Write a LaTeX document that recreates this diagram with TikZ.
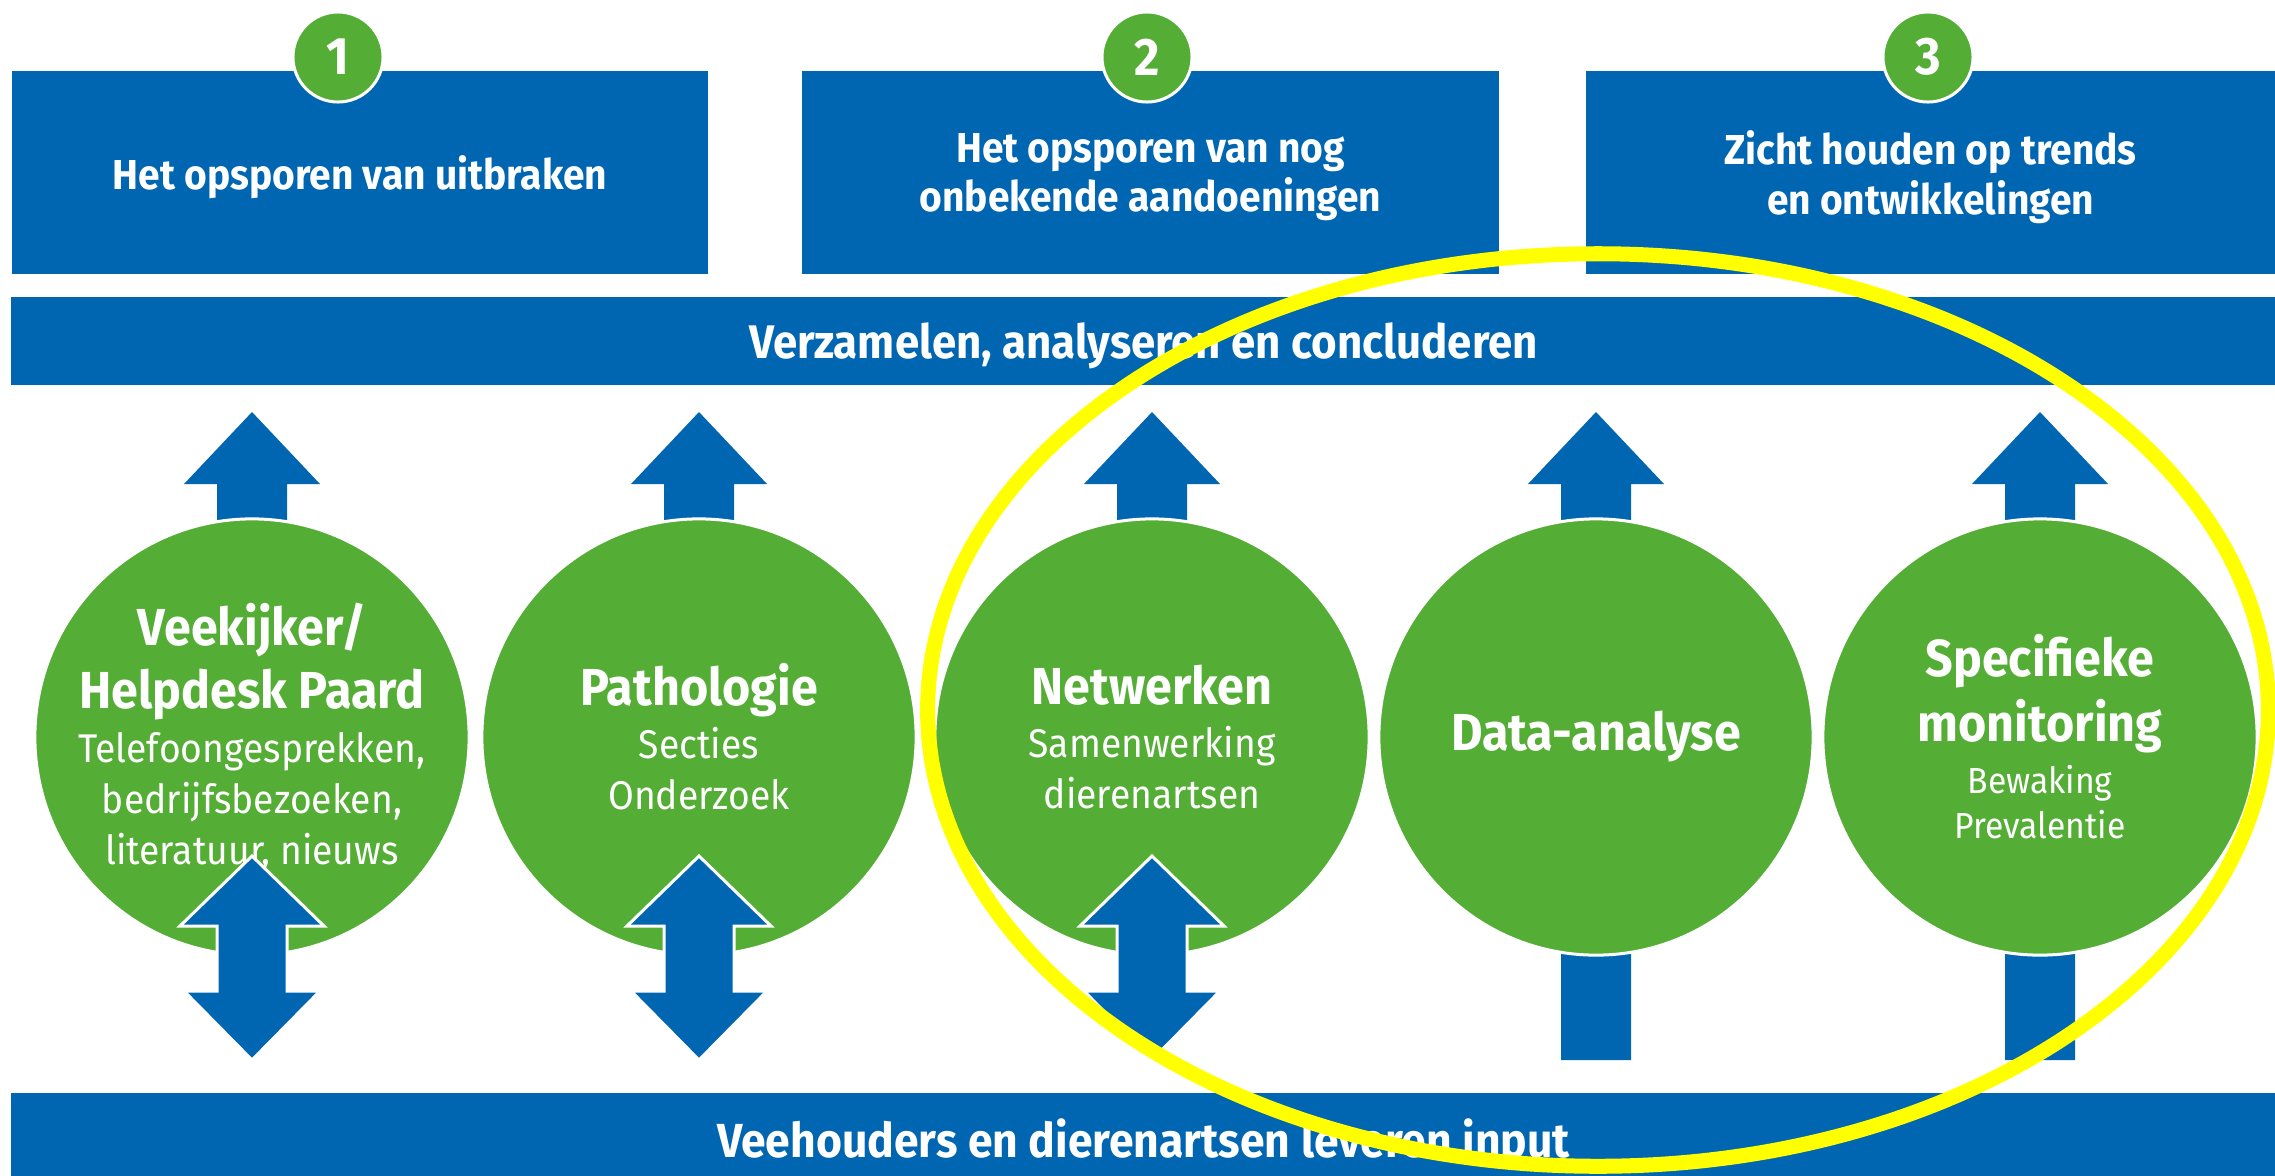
\documentclass[tikz,border=0pt]{standalone}
\usepackage{fontspec}
\setmainfont{Fira Sans}[FakeStretch=0.93]
\usepackage{xcolor}
\usetikzlibrary{shapes.geometric,positioning}

\definecolor{vwblue}{RGB}{0,102,178}
\definecolor{vwgreen}{RGB}{84,173,52}
\definecolor{markyellow}{RGB}{255,255,0}

\newcommand\disctitle{\fontsize{14.8pt}{14.8pt}\selectfont\bfseries}
\newcommand\discsub{\fontsize{11.4pt}{14.5pt}\selectfont\lineskiplimit-100pt\relax}
\newcommand\discsmall{\fontsize{10.3pt}{12.8pt}\selectfont\lineskiplimit-100pt\relax}

\tikzset{
	goalbox/.style={fill=vwblue, text=white, align=center, inner sep=0pt, text depth=0pt,
		minimum height=2.03cm, font=\fontsize{11.9pt}{14.2pt}\selectfont\bfseries},
	bar/.style={fill=vwblue, text=white, inner sep=0pt, text depth=0pt,
		minimum width=22.63cm, minimum height=0.88cm},
	numdot/.style={circle, fill=vwgreen, draw=white, line width=0.03cm, minimum size=0.9cm,
		inner sep=0pt, text=white, font=\fontsize{15pt}{15pt}\selectfont\bfseries},
	disc/.style={ellipse, fill=vwgreen, draw=white, line width=0.03cm,
		minimum width=4.34cm, minimum height=4.36cm, inner sep=0pt},
	disctext/.style={text=white, align=center, inner sep=0pt, font=\discsub},
	shaft/.style={fill=vwblue},
	twoway/.style={fill=vwblue, draw=white, line width=0.03cm},
}

\begin{document}
\begin{tikzpicture}[x=0.01cm, y=-0.01cm]

\fill[white] (0,0) rectangle (2275,1175);
\useasboundingbox (0,0) rectangle (2275,1175);

% three aims
\node[goalbox, minimum width=6.96cm] (goal1) at (360,172.5) {Het opsporen van uitbraken};
\node[goalbox, minimum width=6.97cm] (goal2) at (1150.5,172.5) {Het opsporen van nog\\onbekende aandoeningen};
\node[goalbox, minimum width=6.89cm] (goal3) at (1930.5,172.5) {Zicht houden op trends\\en ontwikkelingen};

\node[numdot] (num1) at (338,57) {1};
\node[numdot] (num2) at (1147,57) {2};
\node[numdot] (num3) at (1928,57) {3};

\node[bar, font=\fontsize{13.4pt}{15pt}\selectfont\bfseries] (collect) at (1143.5,341)
	{Verzamelen, analyseren en concluderen};
\node[bar, minimum height=0.9cm, font=\fontsize{13.6pt}{15pt}\selectfont\bfseries] (input) at (1143.5,1138)
	{Veehouders en dierenartsen leveren input};

% arrows up into the bar
\foreach \x/\yb in {252/738, 699/738, 1152/738, 1596/1060, 2040/1060}{
	\fill[shaft] (\x-35,\yb) -- (\x-35,484) -- (\x-68,484) -- (\x,412)
		-- (\x+68,484) -- (\x+35,484) -- (\x+35,\yb) -- cycle;
}

% sources
\node[disc] (vee) at (252,737) {};
\node[disc] (patho) at (699,737) {};
\node[disc] (netw) at (1152,737) {};
\node[disc] (data) at (1596,737) {};
\node[disc] (spec) at (2040,737) {};

\node[disctext] (vee-txt) at (vee.center)
	{{\disctitle Veekijker/}\\[3.4pt]{\disctitle Helpdesk Paard}\\[0.9pt]Telefoongesprekken,\\bedrijfsbezoeken,\\literatuur, nieuws};
\node[disctext] (patho-txt) at (patho.center)
	{{\disctitle Pathologie}\\[0.6pt]Secties\\Onderzoek};
\node[disctext] (netw-txt) at (netw.center)
	{{\disctitle Netwerken}\\[0.6pt]Samenwerking\\dierenartsen};
\node[disctext] (data-txt) at (data.center) {{\disctitle Data-analyse}};
\node[disctext, font=\discsmall] (spec-txt) at (spec.center)
	{{\disctitle Specifieke}\\[5.7pt]{\disctitle monitoring}\\[2pt]Bewaking\\Prevalentie};

% two-way arrows to the bottom bar
\foreach \x in {252, 699, 1152}{
	\filldraw[twoway] (\x,856) -- (\x+72,926) -- (\x+35,926) -- (\x+35,991) -- (\x+68,991)
		-- (\x,1060) -- (\x-68,991) -- (\x-35,991) -- (\x-35,926) -- (\x-72,926) -- cycle;
}

% highlight
\draw[markyellow, line width=0.15cm] (1598,710) ellipse [x radius=6.7cm, y radius=4.56cm];

\end{tikzpicture}
\end{document}
